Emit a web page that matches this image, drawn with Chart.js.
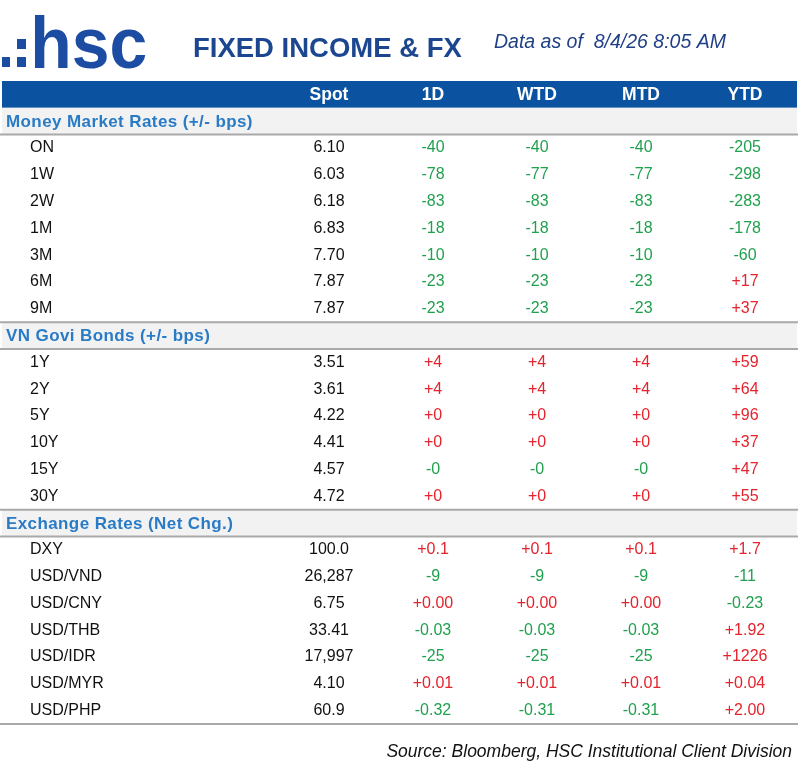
<!DOCTYPE html>
<html lang="en">
<head>
  <meta charset="UTF-8" />
  <title>Fixed Income &amp; FX</title>
  <script src="https://cdn.jsdelivr.net/npm/chart.js"></script>
  <style>
    html, body { margin: 0; padding: 0; background: #fff; }
    #wrap { width: 800px; height: 780px; }
  </style>
</head>
<body>
<div id="wrap"><canvas id="fiChart" width="800" height="780"></canvas></div>

<script>
  // ---- data ----
  const columns = ['Spot', '1D', 'WTD', 'MTD', 'YTD'];

  const mmTitle = 'Money Market Rates (+/- bps)';
  const mmTenors = ['ON', '1W', '2W', '1M', '3M', '6M', '9M'];
  const mmSpot = ['6.10', '6.03', '6.18', '6.83', '7.70', '7.87', '7.87'];
  const mm1D  = ['-40', '-78', '-83', '-18', '-10', '-23', '-23'];
  const mmWTD = ['-40', '-77', '-83', '-18', '-10', '-23', '-23'];
  const mmMTD = ['-40', '-77', '-83', '-18', '-10', '-23', '-23'];
  const mmYTD = ['-205', '-298', '-283', '-178', '-60', '+17', '+37'];

  const bondTitle = 'VN Govi Bonds (+/- bps)';
  const bondTenors = ['1Y', '2Y', '5Y', '10Y', '15Y', '30Y'];
  const bondSpot = ['3.51', '3.61', '4.22', '4.41', '4.57', '4.72'];
  const bond1D  = ['+4', '+4', '+0', '+0', '-0', '+0'];
  const bondWTD = ['+4', '+4', '+0', '+0', '-0', '+0'];
  const bondMTD = ['+4', '+4', '+0', '+0', '-0', '+0'];
  const bondYTD = ['+59', '+64', '+96', '+37', '+47', '+55'];

  const fxTitle = 'Exchange Rates (Net Chg.)';
  const fxPairs = ['DXY', 'USD/VND', 'USD/CNY', 'USD/THB', 'USD/IDR', 'USD/MYR', 'USD/PHP'];
  const fxSpot = ['100.0', '26,287', '6.75', '33.41', '17,997', '4.10', '60.9'];
  const fx1D  = ['+0.1', '-9', '+0.00', '-0.03', '-25', '+0.01', '-0.32'];
  const fxWTD = ['+0.1', '-9', '+0.00', '-0.03', '-25', '+0.01', '-0.31'];
  const fxMTD = ['+0.1', '-9', '+0.00', '-0.03', '-25', '+0.01', '-0.31'];
  const fxYTD = ['+1.7', '-11', '-0.23', '+1.92', '+1226', '+0.04', '+2.00'];

  // ---- build rows ----
  const sections = [
    { title: mmTitle, rows: mmTenors, cols: [mmSpot, mm1D, mmWTD, mmMTD, mmYTD] },
    { title: bondTitle, rows: bondTenors, cols: [bondSpot, bond1D, bondWTD, bondMTD, bondYTD] },
    { title: fxTitle, rows: fxPairs, cols: [fxSpot, fx1D, fxWTD, fxMTD, fxYTD] }
  ];

  const rowNames = [''];
  const rowKinds = ['head'];
  sections.forEach(s => {
    rowNames.push(s.title); rowKinds.push('section');
    s.rows.forEach(r => { rowNames.push(r); rowKinds.push('item'); });
  });

  // one dataset per column, one point per cell
  const datasets = columns.map((col, ci) => {
    const pts = [];
    sections.forEach(s => {
      s.rows.forEach((r, ri) => pts.push({ x: col, y: r, v: s.cols[ci][ri] }));
    });
    return { label: col, data: pts, pointRadius: 0, pointHoverRadius: 0 };
  });

  const FONT = "'Liberation Sans', Arial, sans-serif";
  const BLUE_BAR = '#0B53A1';
  const SECTION_BLUE = '#2A7BC6';
  const SECTION_BG = '#F2F2F2';
  const RULE = '#A9A9A9';
  const GREEN = '#21A04F';
  const RED = '#E5232C';

  function rowHeight(y) {
    return y.getPixelForValue(1) - y.getPixelForValue(0);
  }

  const tablePlugin = {
    id: 'tablePlugin',
    beforeDatasetsDraw(chart) {
      const { ctx, chartArea, scales: { y } } = chart;
      const h = rowHeight(y);
      const left = 2, right = chartArea.right;
      ctx.save();
      rowKinds.forEach((k, i) => {
        const cy = y.getPixelForValue(i);
        if (k === 'head') {
          ctx.fillStyle = BLUE_BAR;
          ctx.fillRect(left, cy - h / 2, right - left, h);
        } else if (k === 'section') {
          ctx.fillStyle = SECTION_BG;
          ctx.fillRect(left, cy - h / 2, right - left, h);
        }
      });
      // rules
      ctx.strokeStyle = RULE;
      ctx.lineWidth = 2;
      const rule = yy => {
        ctx.beginPath(); ctx.moveTo(0, yy); ctx.lineTo(right + 1, yy); ctx.stroke();
      };
      rowKinds.forEach((k, i) => {
        if (k !== 'section') return;
        const cy = y.getPixelForValue(i);
        if (rowKinds[i - 1] !== 'head') rule(cy - h / 2);
        rule(cy + h / 2);
      });
      rule(chartArea.bottom);
      ctx.restore();
    },
    afterDatasetsDraw(chart) {
      const { ctx, scales: { x, y } } = chart;
      ctx.save();
      ctx.textBaseline = 'middle';

      // header labels
      ctx.fillStyle = '#fff';
      ctx.font = 'bold 17.5px ' + FONT;
      ctx.textAlign = 'center';
      columns.forEach((c, i) => ctx.fillText(c, x.getPixelForValue(i), y.getPixelForValue(0) + 1));

      // row labels
      ctx.textAlign = 'left';
      rowKinds.forEach((k, i) => {
        const cy = y.getPixelForValue(i);
        if (k === 'section') {
          ctx.fillStyle = SECTION_BLUE;
          ctx.font = 'bold 17px ' + FONT;
          ctx.letterSpacing = '0.4px';
          ctx.fillText(rowNames[i], 6, cy + 1);
          ctx.letterSpacing = '0px';
        } else if (k === 'item') {
          ctx.fillStyle = '#111';
          ctx.font = '16px ' + FONT;
          ctx.fillText(rowNames[i], 30, cy);
        }
      });

      // cell values
      ctx.textAlign = 'center';
      ctx.font = '16px ' + FONT;
      chart.data.datasets.forEach((ds, di) => {
        const meta = chart.getDatasetMeta(di);
        meta.data.forEach((el, i) => {
          const v = ds.data[i].v;
          ctx.fillStyle = v[0] === '-' ? GREEN : (v[0] === '+' ? RED : '#111');
          ctx.fillText(v, el.x, el.y);
        });
      });
      ctx.restore();
    },
    afterDraw(chart) {
      const { ctx } = chart;
      ctx.save();
      // logo
      ctx.fillStyle = '#1D4CA3';
      ctx.fillRect(2, 57, 8, 10);
      ctx.fillRect(17, 57, 9, 10);
      ctx.fillRect(17, 39, 9, 10);
      ctx.font = 'bold 100px ' + FONT;
      let m = ctx.measureText('hsc');
      const size = 100 * 53 / m.actualBoundingBoxAscent;
      ctx.font = 'bold ' + size + 'px ' + FONT;
      m = ctx.measureText('hsc');
      const ink = m.actualBoundingBoxLeft + m.actualBoundingBoxRight;
      ctx.translate(35, 0);
      ctx.scale(111 / ink, 1);
      ctx.textAlign = 'left';
      ctx.textBaseline = 'alphabetic';
      ctx.fillText('hsc', m.actualBoundingBoxLeft, 68);
      ctx.restore();

      ctx.save();
      ctx.textBaseline = 'alphabetic';
      ctx.textAlign = 'left';
      ctx.fillStyle = '#1C4790';
      ctx.font = 'bold 27.5px ' + FONT;
      ctx.fillText('FIXED INCOME & FX', 193, 57);
      ctx.fillStyle = '#1F3F86';
      ctx.font = 'italic 19.5px ' + FONT;
      ctx.fillText('Data as of  8/4/26 8:05 AM', 494, 48);
      ctx.fillStyle = '#111';
      ctx.font = 'italic 17.5px ' + FONT;
      ctx.textAlign = 'right';
      ctx.fillText('Source: Bloomberg, HSC Institutional Client Division', 792, 757);
      ctx.restore();
    }
  };

  new Chart(document.getElementById('fiChart'), {
    type: 'scatter',
    data: { datasets },
    options: {
      responsive: false,
      animation: false,
      events: [],
      layout: { padding: { left: 277, right: 3, top: 81, bottom: 56 } },
      plugins: { legend: { display: false }, tooltip: { enabled: false } },
      scales: {
        x: { type: 'category', labels: columns, offset: true, display: false },
        y: { type: 'category', labels: rowNames, offset: true, display: false }
      }
    },
    plugins: [tablePlugin]
  });
</script>
</body>
</html>
